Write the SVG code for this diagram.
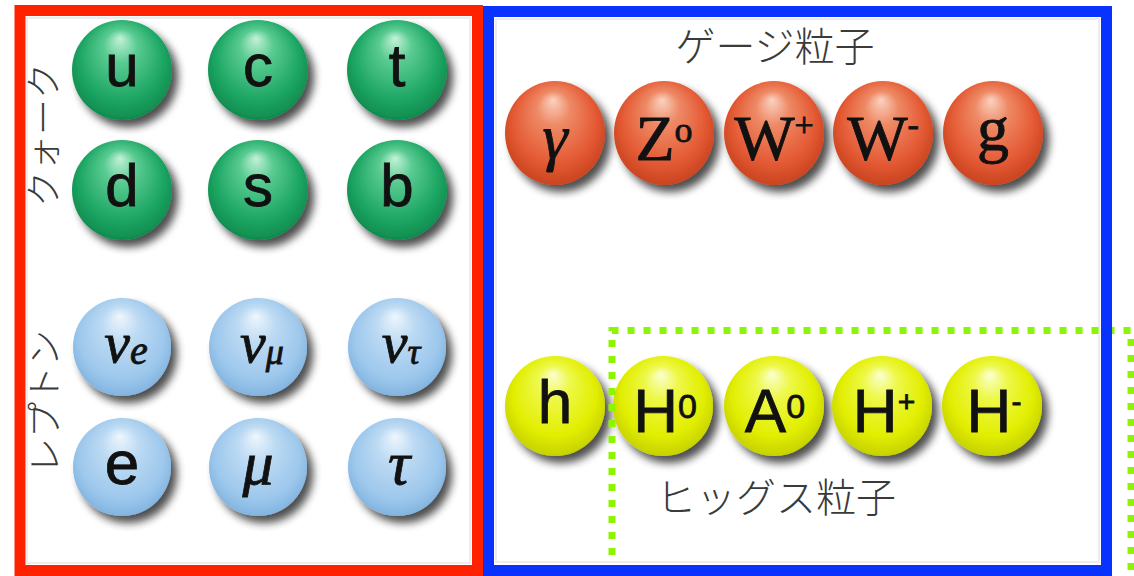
<svg xmlns="http://www.w3.org/2000/svg" width="1134" height="576" viewBox="0 0 1134 576">
<defs>
  <radialGradient id="gGreen" cx="50%" cy="45%" r="55%" fx="48%" fy="18%">
    <stop offset="0" stop-color="#c4f2d8"/>
    <stop offset="0.3" stop-color="#5acb92"/>
    <stop offset="0.75" stop-color="#1ea764"/>
    <stop offset="1" stop-color="#0f8c4e"/>
  </radialGradient>
  <radialGradient id="gBlue" cx="50%" cy="45%" r="55%" fx="48%" fy="18%">
    <stop offset="0" stop-color="#eef6fd"/>
    <stop offset="0.35" stop-color="#bcdaf3"/>
    <stop offset="0.8" stop-color="#9cc7ec"/>
    <stop offset="1" stop-color="#82b4e0"/>
  </radialGradient>
  <radialGradient id="gRed" cx="50%" cy="45%" r="55%" fx="48%" fy="18%">
    <stop offset="0" stop-color="#fbd2c0"/>
    <stop offset="0.3" stop-color="#ee8a66"/>
    <stop offset="0.75" stop-color="#e45a34"/>
    <stop offset="1" stop-color="#c9441f"/>
  </radialGradient>
  <radialGradient id="gYellow" cx="50%" cy="45%" r="55%" fx="48%" fy="18%">
    <stop offset="0" stop-color="#fbffd0"/>
    <stop offset="0.3" stop-color="#eef84a"/>
    <stop offset="0.75" stop-color="#e2ee00"/>
    <stop offset="1" stop-color="#c6d200"/>
  </radialGradient>
  <filter id="shadow" x="-30%" y="-30%" width="170%" height="170%">
    <feGaussianBlur in="SourceAlpha" stdDeviation="4"/>
    <feOffset dx="6" dy="7" result="b"/>
    <feComponentTransfer><feFuncA type="linear" slope="0.7"/></feComponentTransfer>
    <feMerge><feMergeNode/><feMergeNode in="SourceGraphic"/></feMerge>
  </filter>
  <style>
    .sans { font-family: "Liberation Sans", Arial, sans-serif; fill: #111; stroke: #111; stroke-width: 0.8; }
    .serif { font-family: "Liberation Serif", "Times New Roman", serif; fill: #111; stroke: #111; stroke-width: 0.8; }
    .it { font-style: italic; }
    .jp { font-family: "Noto Sans CJK JP", "Noto Sans", sans-serif; fill: #3a3a3a; font-weight: 300; }
    .big { font-size: 60px; }
    .frame { fill: none; }
    .faint { fill: none; stroke: #ededed; stroke-width: 2; }
  </style>
</defs>
<rect x="0" y="0" width="1134" height="576" fill="#ffffff"/>

<!-- faint image edges -->
<rect class="faint" x="27" y="18" width="443" height="545"/>
<rect class="faint" x="496" y="19" width="603" height="543"/>

<!-- labels -->
<g id="label-quark"><text class="jp" font-size="36" text-anchor="middle" dominant-baseline="central" transform="translate(41,135) rotate(-90)">クォーク</text></g>
<g id="label-lepton"><text class="jp" font-size="36" text-anchor="middle" dominant-baseline="central" transform="translate(42,402) rotate(-90)">レプトン</text></g>
<g id="label-gauge"><text class="jp" font-size="40" x="775" y="44" text-anchor="middle" dominant-baseline="central">ゲージ粒子</text></g>
<g id="label-higgs"><text class="jp" font-size="40" x="776" y="495" text-anchor="middle" dominant-baseline="central">ヒッグス粒子</text></g>

<!-- quarks -->
<g id="q-u"><circle cx="122" cy="70" r="50" fill="url(#gGreen)" filter="url(#shadow)"/><text class="sans big" x="122" y="86" text-anchor="middle">u</text></g>
<g id="q-c"><circle cx="258" cy="70" r="50" fill="url(#gGreen)" filter="url(#shadow)"/><text class="sans big" x="258" y="86" text-anchor="middle">c</text></g>
<g id="q-t"><circle cx="397" cy="70" r="50" fill="url(#gGreen)" filter="url(#shadow)"/><text class="sans big" x="397" y="86" text-anchor="middle">t</text></g>
<g id="q-d"><circle cx="122" cy="190" r="50" fill="url(#gGreen)" filter="url(#shadow)"/><text class="sans big" x="122" y="206" text-anchor="middle">d</text></g>
<g id="q-s"><circle cx="258" cy="190" r="50" fill="url(#gGreen)" filter="url(#shadow)"/><text class="sans big" x="258" y="206" text-anchor="middle">s</text></g>
<g id="q-b"><circle cx="397" cy="190" r="50" fill="url(#gGreen)" filter="url(#shadow)"/><text class="sans big" x="397" y="206" text-anchor="middle">b</text></g>

<!-- leptons -->
<g id="l-ve"><circle cx="122" cy="347" r="49" fill="url(#gBlue)" filter="url(#shadow)"/><text class="serif it" font-size="58" x="126" y="362" text-anchor="middle">ν<tspan font-size="40" dy="2">e</tspan></text></g>
<g id="l-vmu"><circle cx="258" cy="347" r="49" fill="url(#gBlue)" filter="url(#shadow)"/><text class="serif it" font-size="58" x="262" y="362" text-anchor="middle">ν<tspan font-size="36" dy="2">μ</tspan></text></g>
<g id="l-vtau"><circle cx="397" cy="347" r="49" fill="url(#gBlue)" filter="url(#shadow)"/><text class="serif it" font-size="58" x="401" y="362" text-anchor="middle">ν<tspan font-size="36" dy="2">τ</tspan></text></g>
<g id="l-e"><circle cx="122" cy="467" r="49" fill="url(#gBlue)" filter="url(#shadow)"/><text class="sans" font-size="62" x="122" y="484" text-anchor="middle">e</text></g>
<g id="l-mu"><circle cx="258" cy="467" r="49" fill="url(#gBlue)" filter="url(#shadow)"/><text class="serif it" font-size="62" x="258" y="484" text-anchor="middle">μ</text></g>
<g id="l-tau"><circle cx="397" cy="467" r="49" fill="url(#gBlue)" filter="url(#shadow)"/><text class="serif it" font-size="62" x="399" y="484" text-anchor="middle">τ</text></g>

<!-- gauge bosons -->
<g id="g-gamma"><ellipse cx="555" cy="133" rx="50" ry="52" fill="url(#gRed)" filter="url(#shadow)"/><text class="serif it" font-size="64" x="555" y="158" text-anchor="middle">γ</text></g>
<g id="g-z"><ellipse cx="664" cy="133" rx="50" ry="52" fill="url(#gRed)" filter="url(#shadow)"/><text class="serif" font-size="64" x="664" y="160" text-anchor="middle">Z<tspan font-size="36" dy="-18">o</tspan></text></g>
<g id="g-wp"><ellipse cx="774" cy="133" rx="50" ry="52" fill="url(#gRed)" filter="url(#shadow)"/><text class="serif" font-size="64" x="774" y="160" text-anchor="middle">W<tspan font-size="34" dy="-24">+</tspan></text></g>
<g id="g-wm"><ellipse cx="883" cy="133" rx="50" ry="52" fill="url(#gRed)" filter="url(#shadow)"/><text class="serif" font-size="64" x="883" y="160" text-anchor="middle">W<tspan font-size="34" dy="-24">-</tspan></text></g>
<g id="g-g"><ellipse cx="993" cy="133" rx="50" ry="52" fill="url(#gRed)" filter="url(#shadow)"/><text class="serif" font-size="64" x="993" y="150" text-anchor="middle">g</text></g>

<!-- higgs -->
<g id="h-h"><circle cx="555" cy="406" r="50" fill="url(#gYellow)" filter="url(#shadow)"/><text class="sans" font-size="62" x="555" y="423" text-anchor="middle">h</text></g>
<g id="h-H0"><circle cx="663" cy="406" r="50" fill="url(#gYellow)" filter="url(#shadow)"/><text class="sans" font-size="62" x="665" y="432" text-anchor="middle">H<tspan font-size="34" dy="-14">0</tspan></text></g>
<g id="h-A0"><circle cx="774" cy="406" r="50" fill="url(#gYellow)" filter="url(#shadow)"/><text class="sans" font-size="62" x="775" y="432" text-anchor="middle">A<tspan font-size="34" dy="-14">0</tspan></text></g>
<g id="h-Hp"><circle cx="882" cy="406" r="50" fill="url(#gYellow)" filter="url(#shadow)"/><text class="sans" font-size="62" x="884" y="432" text-anchor="middle">H<tspan font-size="30" dy="-20">+</tspan></text></g>
<g id="h-Hm"><circle cx="992" cy="406" r="50" fill="url(#gYellow)" filter="url(#shadow)"/><text class="sans" font-size="62" x="994" y="432" text-anchor="middle">H<tspan font-size="30" dy="-20">-</tspan></text></g>

<!-- frames -->
<g id="frames">
  <path id="frame-higgs" class="frame" d="M612 555 V330.5 H1131 V576" stroke="#8cf500" stroke-width="7" stroke-dasharray="7 9"/>
  <rect id="frame-fermions" class="frame" x="20" y="10.5" width="457.5" height="560" stroke="#ff2200" stroke-width="11"/>
  <rect id="frame-bosons" class="frame" x="488.5" y="11.5" width="618" height="559" stroke="#0a32ff" stroke-width="11"/>
</g>
<g id="connectors"></g>
</svg>
